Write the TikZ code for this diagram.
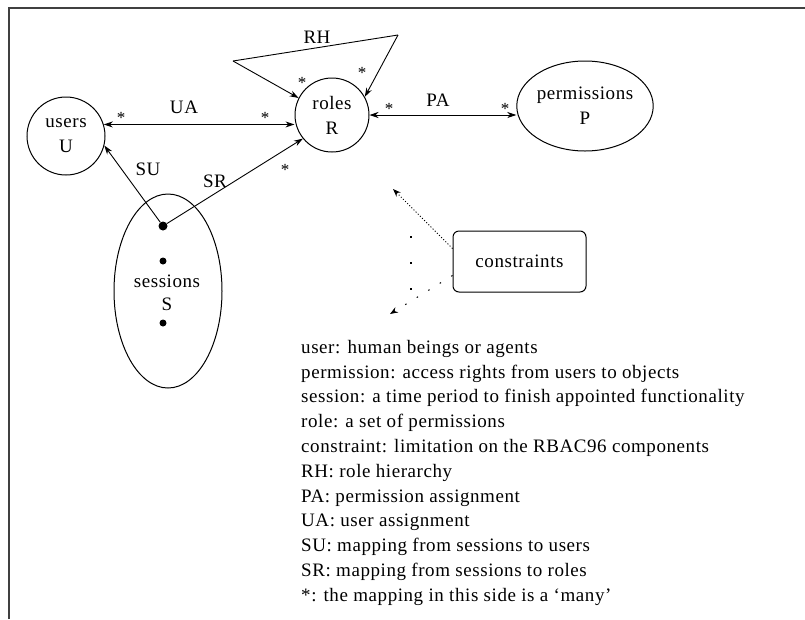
\documentclass[tikz,border=0pt]{standalone}
\usepackage{fontspec}
\setmainfont{Liberation Serif}[LetterSpace=3]
\usetikzlibrary{calc,positioning,arrows.meta,shapes.geometric}

\begin{document}
\begin{tikzpicture}[x=1pt,y=-1pt,font=\fontsize{19}{25}\selectfont,
  ent/.style={draw,line width=1pt,inner sep=0pt,align=center},
  dot/.style={circle,fill=black,inner sep=0pt,minimum size=7pt},
  tip/.style={-{Stealth[length=9pt,width=6pt]},line width=0.9pt},
  both/.style={{Stealth[length=9pt,width=6pt]}-{Stealth[length=9pt,width=6pt]},line width=0.9pt},
  many/.style={font=\fontsize{17}{17}\selectfont,inner sep=0pt}]
  \useasboundingbox (0,0) rectangle (805,619);
  % ramecek
  \draw[line width=2pt,black!75] (9,619) -- (9,8) -- (805,8);
  % entity
  \node[ent,circle,minimum size=78pt] (users) at (66,136) {users\\U};
  \node[ent,circle,minimum size=74pt] (roles) at (332,115) {roles\\R};
  \node[ent,ellipse,minimum width=126pt,minimum height=90pt] (perms) at (585,106) {permissions\\P};
  \node[ent,ellipse,minimum width=108pt,minimum height=194pt] (sessions) at (168,291) {};
  \node[align=center,font=\fontsize{19}{23}\selectfont] at (167,293) {sessions\\S};
  \node[dot,minimum size=9pt] (s1) at (163,226) {}; \node[dot] (s2) at (163,261) {}; \node[dot] (s3) at (163,323) {};
  \node[draw,line width=1pt,rounded corners=6pt,minimum width=133pt,minimum height=61pt] (cons) at (519.5,261.5) {constraints};
  % vazby
  \draw[both] (users.17) -- (roles.west |- users.17);
  \draw[both] (roles.east) -- (perms.west |- roles.east);
  \coordinate (rh1) at (233,61); \coordinate (rh2) at (398,35);
  \draw[line width=0.9pt] (rh1) -- (rh2);
  \draw[tip] (rh1) -- (roles.153);
  \draw[tip] (rh2) -- (roles.29);
  \draw[tip] (s1) -- (users.-14);
  \draw[tip] (s1) -- (roles.219);
  % popisky vazeb
  \node at (184,107) {UA}; \node at (438,100) {PA}; \node at (317,37) {RH};
  \node at (148,169) {SU}; \node at (215,181) {SR};
  \node[many] at (121,118) {*}; \node[many] at (265,118) {*};
  \node[many] at (389,109) {*}; \node[many] at (505,109) {*};
  \node[many] at (302,83) {*}; \node[many] at (362,73) {*};
  \node[many] at (285,170) {*};
  % omezeni (tečkovane)
  \coordinate (c1) at (393,189); \coordinate (c2) at (390,314);
  \draw[dotted,line width=1pt,-{Stealth[length=8pt,width=6pt]}] ([yshift=13pt]cons.west) -- (c1);
  \draw[line width=1pt,dash pattern=on 1.5pt off 12pt,-{Stealth[length=8pt,width=6pt]}] ([yshift=-14pt]cons.west) -- (c2);
  \draw[line width=1.2pt,dash pattern=on 1.5pt off 24.5pt] (411,236) -- (411,290);
  % legenda
  \node[anchor=north west,align=left,inner sep=0pt,font=\fontsize{19}{24.8}\selectfont] (legend) at (301,340) {%
    user: human beings or agents\\
    permission: access rights from users to objects\\
    session: a time period to finish appointed functionality\\
    role: a set of permissions\\
    constraint: limitation on the RBAC96 components\\
    RH: role hierarchy\\
    PA: permission assignment\\
    UA: user assignment\\
    SU: mapping from sessions to users\\
    SR: mapping from sessions to roles\\
    *: the mapping in this side is a ‘many’};
\end{tikzpicture}
\end{document}
